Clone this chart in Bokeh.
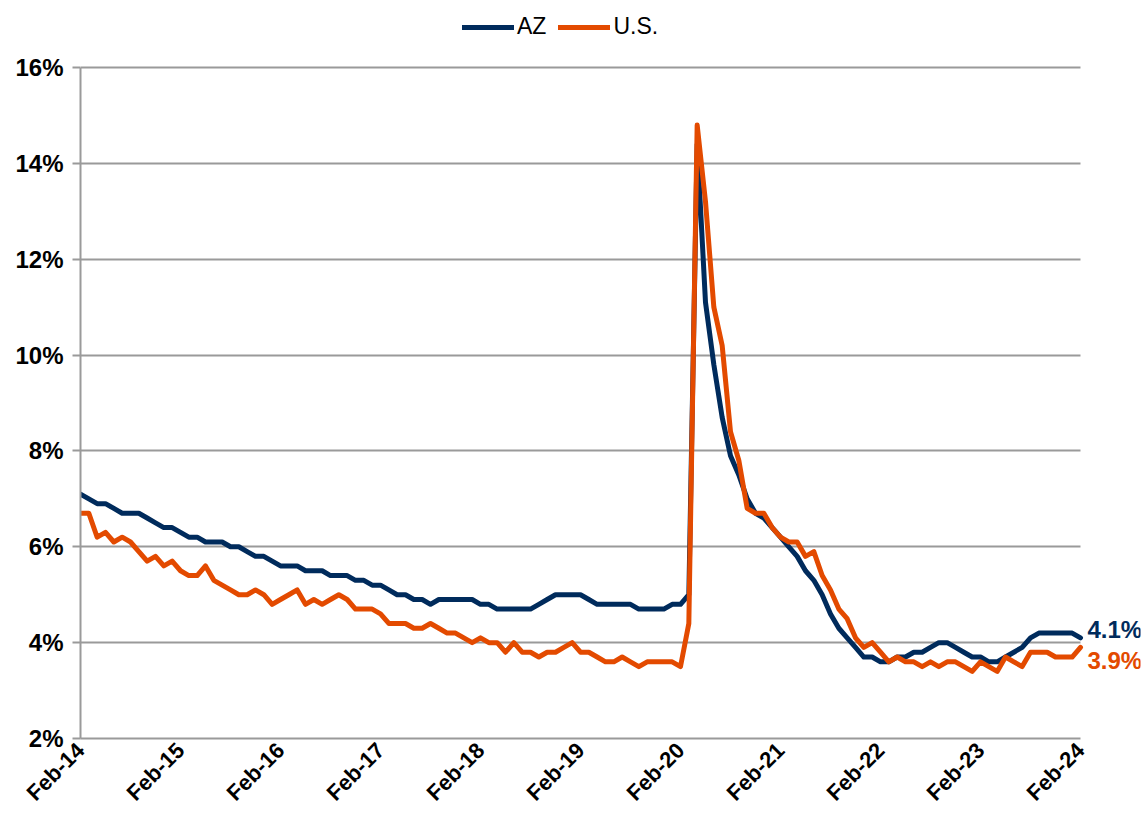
import math
from bokeh.plotting import figure
from bokeh.models import (Range1d, FixedTicker, PrintfTickFormatter, Legend,
                          LegendItem, Label)
from bokeh.embed import file_html
from bokeh.resources import INLINE

# ---- data (monthly unemployment rate, %, Feb-2014 .. Feb-2024) ----
tick_labels = ["Feb-14", "Feb-15", "Feb-16", "Feb-17", "Feb-18", "Feb-19",
               "Feb-20", "Feb-21", "Feb-22", "Feb-23", "Feb-24"]

az = [7.1, 7.0, 6.9, 6.9, 6.8, 6.7, 6.7, 6.7, 6.6, 6.5, 6.4, 6.4,
      6.3, 6.2, 6.2, 6.1, 6.1, 6.1, 6.0, 6.0, 5.9, 5.8, 5.8, 5.7,
      5.6, 5.6, 5.6, 5.5, 5.5, 5.5, 5.4, 5.4, 5.4, 5.3, 5.3, 5.2,
      5.2, 5.1, 5.0, 5.0, 4.9, 4.9, 4.8, 4.9, 4.9, 4.9, 4.9, 4.9,
      4.8, 4.8, 4.7, 4.7, 4.7, 4.7, 4.7, 4.8, 4.9, 5.0, 5.0, 5.0,
      5.0, 4.9, 4.8, 4.8, 4.8, 4.8, 4.8, 4.7, 4.7, 4.7, 4.7, 4.8,
      4.8, 5.0, 14.4, 11.1, 9.8, 8.7, 7.9, 7.5, 7.0, 6.7, 6.6, 6.4,
      6.2, 6.0, 5.8, 5.5, 5.3, 5.0, 4.6, 4.3, 4.1, 3.9, 3.7, 3.7,
      3.6, 3.6, 3.7, 3.7, 3.8, 3.8, 3.9, 4.0, 4.0, 3.9, 3.8, 3.7,
      3.7, 3.6, 3.6, 3.7, 3.8, 3.9, 4.1, 4.2, 4.2, 4.2, 4.2, 4.2,
      4.1]

us = [6.7, 6.7, 6.2, 6.3, 6.1, 6.2, 6.1, 5.9, 5.7, 5.8, 5.6, 5.7,
      5.5, 5.4, 5.4, 5.6, 5.3, 5.2, 5.1, 5.0, 5.0, 5.1, 5.0, 4.8,
      4.9, 5.0, 5.1, 4.8, 4.9, 4.8, 4.9, 5.0, 4.9, 4.7, 4.7, 4.7,
      4.6, 4.4, 4.4, 4.4, 4.3, 4.3, 4.4, 4.3, 4.2, 4.2, 4.1, 4.0,
      4.1, 4.0, 4.0, 3.8, 4.0, 3.8, 3.8, 3.7, 3.8, 3.8, 3.9, 4.0,
      3.8, 3.8, 3.7, 3.6, 3.6, 3.7, 3.6, 3.5, 3.6, 3.6, 3.6, 3.6,
      3.5, 4.4, 14.8, 13.2, 11.0, 10.2, 8.4, 7.8, 6.8, 6.7, 6.7, 6.4,
      6.2, 6.1, 6.1, 5.8, 5.9, 5.4, 5.1, 4.7, 4.5, 4.1, 3.9, 4.0,
      3.8, 3.6, 3.7, 3.6, 3.6, 3.5, 3.6, 3.5, 3.6, 3.6, 3.5, 3.4,
      3.6, 3.5, 3.4, 3.7, 3.6, 3.5, 3.8, 3.8, 3.8, 3.7, 3.7, 3.7,
      3.9]

y_ticks = [2, 4, 6, 8, 10, 12, 14, 16]

AZ_COLOR = "#002B5C"
US_COLOR = "#E34A00"
GRID = "#9A9A9A"
FONT = "Liberation Sans"

months = list(range(len(az)))
tick_pos = list(range(0, len(az), 12))

# ---- layout (pixels) ----
W, H = 1142, 828
LEFT, RIGHT_PAD, TOP_PAD, BOTTOM = 80, 2, 2, 90
DATA_W = 1000          # px from first to last month
DATA_H = 671           # px from 2% to 16%
frame_w = W - LEFT - RIGHT_PAD
frame_h = H - TOP_PAD - BOTTOM
x_end = (len(az) - 1) * frame_w / DATA_W
y_top = y_ticks[0] + (y_ticks[-1] - y_ticks[0]) * frame_h / DATA_H

p = figure(width=W, height=H, output_backend="svg", toolbar_location=None,
           x_range=Range1d(0, x_end), y_range=Range1d(y_ticks[0], y_top),
           min_border_left=LEFT, min_border_right=RIGHT_PAD,
           min_border_top=TOP_PAD, min_border_bottom=BOTTOM)
p.outline_line_color = None
p.background_fill_color = "white"
p.border_fill_color = "white"

# grid
p.xgrid.grid_line_color = None
p.ygrid.grid_line_color = GRID
p.ygrid.grid_line_width = 2
p.ygrid.ticker = FixedTicker(ticks=y_ticks)
p.ygrid.cross_bounds = (0, len(az) - 1)

# y axis
p.yaxis.ticker = FixedTicker(ticks=y_ticks)
p.yaxis.bounds = (y_ticks[0], y_ticks[-1])
p.yaxis.formatter = PrintfTickFormatter(format="%d%%")
p.yaxis.axis_line_color = GRID
p.yaxis.axis_line_width = 2
p.yaxis.major_tick_line_color = GRID
p.yaxis.major_tick_line_width = 2
p.yaxis.major_tick_out = 8
p.yaxis.major_tick_in = 0
p.yaxis.minor_tick_line_color = None
p.yaxis.major_label_text_font = FONT
p.yaxis.major_label_text_font_style = "bold"
p.yaxis.major_label_text_font_size = "24px"
p.yaxis.major_label_text_color = "black"
p.yaxis.major_label_standoff = 9

# x axis
p.xaxis.ticker = FixedTicker(ticks=tick_pos)
p.xaxis.bounds = (0, len(az) - 1)
p.xaxis.major_label_overrides = {t: lab for t, lab in zip(tick_pos, tick_labels)}
p.xaxis.axis_line_color = GRID
p.xaxis.axis_line_width = 2
p.xaxis.major_tick_line_color = None
p.xaxis.minor_tick_line_color = None
p.xaxis.major_tick_out = 0
p.xaxis.major_tick_in = 0
p.xaxis.major_label_orientation = math.pi / 4
p.xaxis.major_label_text_font = FONT
p.xaxis.major_label_text_font_style = "bold"
p.xaxis.major_label_text_font_size = "22px"
p.xaxis.major_label_text_color = "black"
p.xaxis.major_label_standoff = 8

r_az = p.line(months, az, line_color=AZ_COLOR, line_width=5,
              line_join="round", line_cap="round")
r_us = p.line(months, us, line_color=US_COLOR, line_width=5,
              line_join="round", line_cap="round")

legend = Legend(items=[LegendItem(label="AZ", renderers=[r_az]),
                       LegendItem(label="U.S.", renderers=[r_us])],
                orientation="horizontal",
                location=(462 - LEFT, (H - BOTTOM) - 40))
legend.border_line_color = None
legend.background_fill_alpha = 0
legend.padding = 0
legend.margin = 0
legend.spacing = 12
legend.glyph_width = 52
legend.glyph_height = 24
legend.label_height = 24
legend.label_standoff = 3
legend.label_text_font = FONT
legend.label_text_font_size = "23px"
legend.label_text_color = "black"
p.add_layout(legend)

lab_az = Label(x=months[-1], y=az[-1], text=f"{az[-1]:.1f}%", x_offset=7, y_offset=8,
               text_baseline="middle", text_align="left", text_color=AZ_COLOR,
               text_font=FONT, text_font_style="bold", text_font_size="24px")
lab_us = Label(x=months[-1], y=us[-1], text=f"{us[-1]:.1f}%", x_offset=7, y_offset=-13,
               text_baseline="middle", text_align="left", text_color=US_COLOR,
               text_font=FONT, text_font_style="bold", text_font_size="24px")
p.add_layout(lab_az)
p.add_layout(lab_us)

open("out.html", "w").write(file_html(p, INLINE))
